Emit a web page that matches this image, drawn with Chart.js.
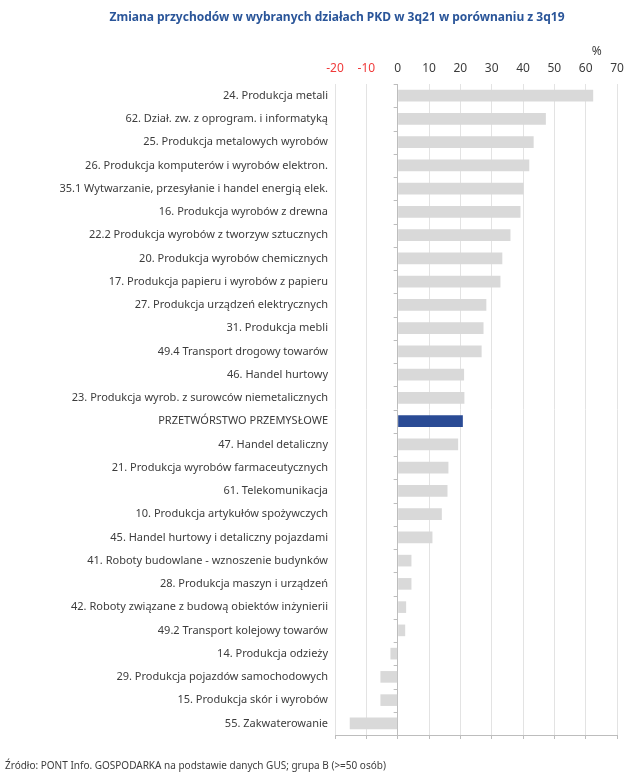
<!DOCTYPE html>
<html lang="pl">
<head>
<meta charset="utf-8">
<title>Zmiana przychodów w wybranych działach PKD</title>
<script src="https://cdn.jsdelivr.net/npm/chart.js@4/dist/chart.umd.min.js"></script>
<style>
  html, body { margin: 0; padding: 0; background: #fff; }
  #wrap { width: 640px; height: 782px; position: relative; }
</style>
</head>
<body>
<div id="wrap"><canvas id="chart"></canvas></div>
<script>
// dane z wykresu (zmiana przychodów 3q21 vs 3q19, %)
const categories = [
  "24. Produkcja metali",
  "62. Dział. zw. z oprogram. i informatyką",
  "25. Produkcja metalowych wyrobów",
  "26. Produkcja komputerów i wyrobów elektron.",
  "35.1 Wytwarzanie, przesyłanie i handel energią elek.",
  "16. Produkcja wyrobów z drewna",
  "22.2 Produkcja wyrobów z tworzyw sztucznych",
  "20. Produkcja wyrobów chemicznych",
  "17. Produkcja papieru i wyrobów z papieru",
  "27. Produkcja urządzeń elektrycznych",
  "31. Produkcja mebli",
  "49.4 Transport drogowy towarów",
  "46. Handel hurtowy",
  "23. Produkcja wyrob. z surowców niemetalicznych",
  "PRZETWÓRSTWO PRZEMYSŁOWE",
  "47. Handel detaliczny",
  "21. Produkcja wyrobów farmaceutycznych",
  "61. Telekomunikacja",
  "10. Produkcja artykułów spożywczych",
  "45. Handel hurtowy i detaliczny pojazdami",
  "41. Roboty budowlane - wznoszenie budynków",
  "28. Produkcja maszyn i urządzeń",
  "42. Roboty związane z budową obiektów inżynierii",
  "49.2 Transport kolejowy towarów",
  "14. Produkcja odzieży",
  "29. Produkcja pojazdów samochodowych",
  "15. Produkcja skór i wyrobów",
  "55. Zakwaterowanie"
];
const values = [
  62.4, 47.3, 43.4, 42.0, 40.2, 39.2, 36.0, 33.4, 32.8, 28.3,
  27.4, 26.8, 21.2, 21.3, 20.8, 19.3, 16.2, 15.9, 14.1, 11.1,
  4.4, 4.4, 2.7, 2.4, -2.3, -5.5, -5.5, -15.3
];
const highlighted = "PRZETWÓRSTWO PRZEMYSŁOWE";
const xMin = -20;
const xMax = 70;
const xStep = 10;

const titleText = "Zmiana przychodów w wybranych działach PKD w 3q21 w porównaniu z 3q19";
const sourceText = "Źródło: PONT Info. GOSPODARKA na podstawie danych GUS; grupa B (>=50 osób)";

const FONT = "'Noto Sans', 'DejaVu Sans', sans-serif";
const gridColor = "#e3e3e3";
const axisColor = "#bdbdbd";
const textColor = "#3c3c3c";

const barColors = categories.map(c => c === highlighted ? "#2a4b95" : "#d9d9d9");

// teksty dodatkowe: tytuł, "%", źródło + kreski osi zero
const extrasPlugin = {
  id: "extras",
  afterDraw(chart) {
    const ctx = chart.ctx;
    const x = chart.scales.x;
    const area = chart.chartArea;
    ctx.save();

    // kreski przy osi 0
    const x0 = x.getPixelForValue(0);
    const band = (area.bottom - area.top) / categories.length;
    ctx.strokeStyle = axisColor;
    ctx.lineWidth = 1;
    for (let i = 0; i <= categories.length; i++) {
      const yy = Math.round(area.top + i * band) + 0.5;
      ctx.beginPath();
      ctx.moveTo(x0 - 4, yy);
      ctx.lineTo(x0, yy);
      ctx.stroke();
    }

    ctx.fillStyle = "#2a5599";
    ctx.font = "bold 12px " + FONT;
    ctx.textAlign = "center";
    ctx.textBaseline = "middle";
    ctx.fillText(titleText, 337, 18);

    ctx.fillStyle = textColor;
    ctx.font = "12px " + FONT;
    ctx.fillText("%", x.getPixelForValue(63.5), 52);

    ctx.font = "10px " + FONT;
    ctx.textAlign = "left";
    ctx.fillText(sourceText, 5, 766);
    ctx.restore();
  }
};

new Chart(document.getElementById("chart"), {
  type: "bar",
  data: {
    labels: categories,
    datasets: [{
      data: values,
      backgroundColor: barColors,
      borderWidth: 0,
      barPercentage: 0.5,
      categoryPercentage: 1.0,
      xAxisID: "x"
    }]
  },
  options: {
    indexAxis: "y",
    responsive: true,
    maintainAspectRatio: false,
    animation: false,
    layout: { padding: { top: 52, right: 23, bottom: 42, left: 0 } },
    plugins: {
      legend: { display: false },
      tooltip: { enabled: false }
    },
    scales: {
      x: {
        position: "top",
        min: xMin,
        max: xMax,
        ticks: {
          stepSize: xStep,
          padding: 8,
          font: { family: FONT, size: 12 },
          color: c => c.tick && c.tick.value < 0 ? "#f03a3a" : textColor
        },
        grid: {
          color: c => c.tick && c.tick.value === 0 ? axisColor : gridColor,
          drawTicks: false
        },
        border: { display: false },
        afterFit: s => { s.height = 32; }
      },
      xb: {
        position: "bottom",
        min: xMin,
        max: xMax,
        ticks: { stepSize: xStep, display: false },
        grid: { drawOnChartArea: false, tickLength: 4, color: axisColor },
        border: { color: axisColor },
        afterFit: s => { s.height = 5; }
      },
      y: {
        ticks: {
          font: { family: FONT, size: 11 },
          color: textColor,
          padding: 7,
          autoSkip: false
        },
        grid: { display: false, drawTicks: false },
        border: { display: false },
        afterFit: s => { s.width = 335; }
      }
    }
  },
  plugins: [extrasPlugin]
});
</script>
</body>
</html>
